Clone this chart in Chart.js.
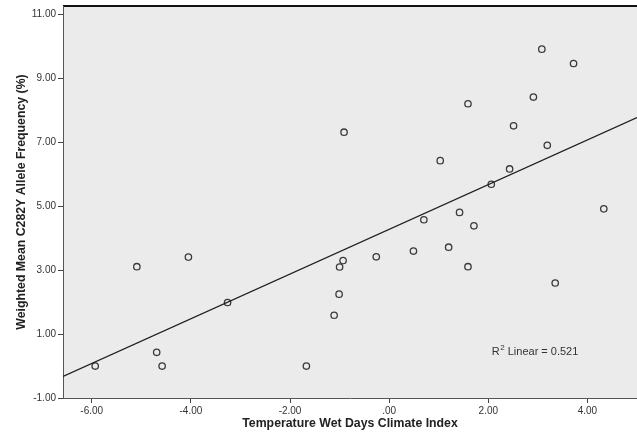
<!DOCTYPE html>
<html>
<head>
<meta charset="utf-8">
<script src="https://cdn.jsdelivr.net/npm/chart.js@4/dist/chart.umd.min.js"></script>
<style>
  body { margin: 0; background: #fff; }
  #wrap { width: 637px; height: 439px; position: relative; }
</style>
</head>
<body>
<div id="wrap"><canvas id="scatterChart"></canvas></div>
<script>
// climate index (x) vs weighted mean C282Y allele frequency (y)
const climateIndex = [-5.93, -5.09, -4.05, -4.69, -4.58, -3.26, -1.67, -1.11, -1.01, -1.00,
  -0.93, -0.91, -0.26, 0.49, 0.70, 1.03, 1.20, 1.42, 1.59, 1.59,
  1.71, 2.06, 2.43, 2.51, 2.91, 3.08, 3.19, 3.35, 3.72, 4.33];
const alleleFreq = [0.00, 3.11, 3.41, 0.43, 0.00, 1.99, 0.00, 1.59, 2.25, 3.10,
  3.30, 7.32, 3.42, 3.60, 4.58, 6.43, 3.72, 4.81, 8.21, 3.11,
  4.39, 5.69, 6.17, 7.52, 8.42, 9.92, 6.91, 2.60, 9.47, 4.92];
const xTicks = [-6, -4, -2, 0, 2, 4];
const yTicks = [-1, 1, 3, 5, 7, 9, 11];
const rSquaredLabel = "0.521";

const xMin = -6.58, xMax = 5.0;
const yMin = -1, yMax = 11.27;

// least squares fit for the line
function linearFit(xs, ys) {
  const n = xs.length;
  const mx = xs.reduce((a, b) => a + b, 0) / n;
  const my = ys.reduce((a, b) => a + b, 0) / n;
  let sxy = 0, sxx = 0;
  for (let i = 0; i < n; i++) {
    sxy += (xs[i] - mx) * (ys[i] - my);
    sxx += (xs[i] - mx) * (xs[i] - mx);
  }
  const slope = sxy / sxx;
  return { slope: slope, intercept: my - slope * mx };
}
const fit = linearFit(climateIndex, alleleFreq);

const points = climateIndex.map((x, i) => ({ x: x, y: alleleFreq[i] }));
const fitLine = [xMin, xMax].map(x => ({ x: x, y: fit.intercept + fit.slope * x }));

function fmt(v) {
  let s = v.toFixed(2);
  if (s.startsWith("0.")) s = s.slice(1);
  return s;
}

// grey plot background + black top frame + R2 note
const plotDecor = {
  id: "plotDecor",
  beforeDraw(chart) {
    const { ctx, chartArea: a } = chart;
    ctx.save();
    ctx.fillStyle = "#ebebeb";
    ctx.fillRect(a.left, a.top, a.right - a.left, a.bottom - a.top);
    ctx.strokeStyle = "#111";
    ctx.lineWidth = 2;
    ctx.beginPath();
    ctx.moveTo(a.left, a.top);
    ctx.lineTo(a.right, a.top);
    ctx.stroke();
    ctx.restore();
  },
  afterDraw(chart) {
    const { ctx, scales } = chart;
    const x = scales.x.getPixelForValue(2.07);
    const y = scales.y.getPixelForValue(0.45);
    ctx.save();
    ctx.fillStyle = "#333";
    ctx.textBaseline = "middle";
    ctx.textAlign = "left";
    ctx.font = "11px 'Liberation Sans', Arial, sans-serif";
    ctx.fillText("R", x, y);
    let w = ctx.measureText("R").width;
    ctx.font = "8px 'Liberation Sans', Arial, sans-serif";
    ctx.fillText("2", x + w + 0.5, y - 4);
    w += ctx.measureText("2").width + 0.5;
    ctx.font = "11px 'Liberation Sans', Arial, sans-serif";
    ctx.fillText(" Linear = " + rSquaredLabel, x + w, y);
    ctx.restore();
  }
};

const ctx = document.getElementById("scatterChart").getContext("2d");
new Chart(ctx, {
  type: "scatter",
  data: {
    datasets: [
      {
        data: points,
        pointStyle: "circle",
        pointRadius: 3.2,
        pointBorderWidth: 1.3,
        borderColor: "#3a3a3a",
        backgroundColor: "rgba(0,0,0,0)",
        order: 2
      },
      {
        type: "line",
        data: fitLine,
        borderColor: "#1e1e1e",
        borderWidth: 1.3,
        pointRadius: 0,
        fill: false,
        order: 1
      }
    ]
  },
  options: {
    responsive: true,
    maintainAspectRatio: false,
    animation: false,
    layout: { autoPadding: false, padding: { top: 6, right: 0, left: 0, bottom: 0 } },
    plugins: {
      legend: { display: false },
      tooltip: { enabled: false }
    },
    scales: {
      x: {
        type: "linear",
        min: xMin,
        max: xMax,
        afterFit(scale) {
          scale.height = 41;
          scale.paddingLeft = 0;
          scale.paddingRight = 0;
        },
        afterBuildTicks(scale) { scale.ticks = xTicks.map(v => ({ value: v })); },
        border: { display: true, color: "#555", width: 1 },
        grid: { drawOnChartArea: false, drawTicks: true, tickLength: 5, color: "#444" },
        ticks: {
          padding: 2,
          color: "#333",
          font: { family: "'Liberation Sans', Arial, sans-serif", size: 10 },
          maxRotation: 0,
          callback: v => fmt(v)
        },
        title: {
          display: true,
          text: "Temperature Wet Days Climate Index",
          color: "#222",
          font: { family: "'Liberation Sans', Arial, sans-serif", size: 12.3, weight: "bold" },
          padding: { top: 0, bottom: 8 }
        }
      },
      y: {
        type: "linear",
        min: yMin,
        max: yMax,
        afterFit(scale) {
          scale.width = 63;
          scale.paddingTop = 0;
          scale.paddingBottom = 0;
        },
        afterBuildTicks(scale) { scale.ticks = yTicks.map(v => ({ value: v })); },
        border: { display: true, color: "#555", width: 1 },
        grid: { drawOnChartArea: false, drawTicks: true, tickLength: 5, color: "#444" },
        ticks: {
          padding: 2,
          color: "#333",
          font: { family: "'Liberation Sans', Arial, sans-serif", size: 10 },
          callback: v => fmt(v)
        },
        title: {
          display: true,
          text: "Weighted Mean C282Y Allele Frequency (%)",
          color: "#222",
          font: { family: "'Liberation Sans', Arial, sans-serif", size: 12.3, weight: "bold" },
          padding: { top: 14, bottom: 0 }
        }
      }
    }
  },
  plugins: [plotDecor]
});
</script>
</body>
</html>
